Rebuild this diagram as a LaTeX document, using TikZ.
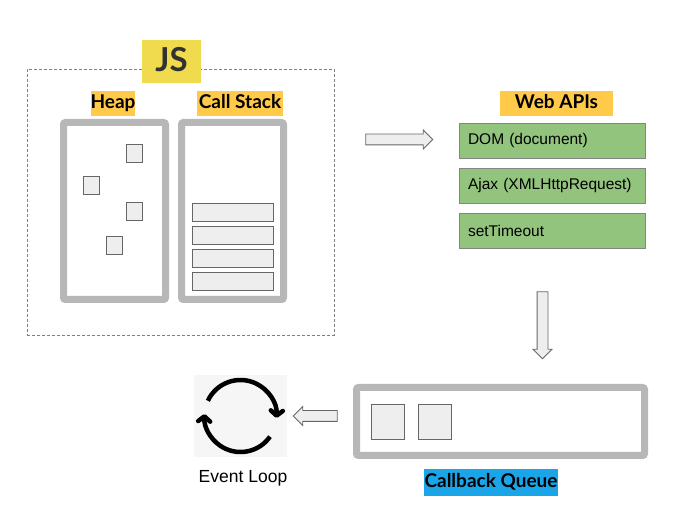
\documentclass[tikz,border=0pt]{standalone}
\usepackage{fontspec}
\setmainfont{Liberation Sans}
\newfontfamily\lblfont{Lato}
\usetikzlibrary{shapes.arrows,arrows.meta}
\definecolor{jsyellow}{HTML}{F0DB4F}
\definecolor{jsdark}{HTML}{323330}
\definecolor{lblorange}{HTML}{FFC94A}
\definecolor{framegray}{HTML}{B7B7B7}
\definecolor{cellgray}{HTML}{EEEEEE}
\definecolor{linegray}{HTML}{666666}
\definecolor{apigreen}{HTML}{93C47D}
\definecolor{queueblue}{HTML}{1BA5E9}
\definecolor{iconbg}{HTML}{F6F6F6}
\begin{document}
\begin{tikzpicture}[x=1pt,y=-1pt]
\tikzset{
  lbl/.style = {fill=lblorange, inner sep=0pt, minimum height=25pt, text height=13.5pt, text depth=4pt, font=\lblfont\bfseries\fontsize{19}{19}\selectfont},
  frame/.style = {draw=framegray, line width=7pt, rounded corners=2pt, fill=white, inner sep=0pt},
  cell/.style = {draw=linegray, line width=0.8pt, fill=cellgray, inner sep=0pt},
  api/.style = {draw=linegray!80, line width=0.9pt, fill=apigreen, minimum height=35pt, text width=168pt, inner xsep=9pt, align=left, font=\fontsize{15.5}{16}\selectfont},
  bigarrow/.style = {single arrow, draw=linegray, line width=0.8pt, fill=cellgray, inner xsep=0pt, inner ysep=5pt, single arrow head extend=4pt},
  loopline/.style = {line width=4.5pt, -{Straight Barb[length=5pt,width=12pt,round]}}
}
\useasboundingbox (0,0) rectangle (675,526);
% JS engine
\node[draw=gray, dash pattern=on 3pt off 2pt, line width=0.8pt, minimum width=307pt, minimum height=266pt, inner sep=0pt] (engine) at (180.5,202) {};
\node[fill=jsyellow, text=jsdark, minimum width=59pt, minimum height=43pt, inner sep=0pt, text height=21pt, text depth=0pt, font=\lblfont\bfseries\fontsize{33}{33}\selectfont] (js) at (171.5,61.5) {JS};
\node[lbl, minimum width=44pt] (heaplbl) at (113,103.5) {Heap};
\node[lbl, minimum width=86pt] (stacklbl) at (240,103.5) {Call Stack};
\node[frame, minimum width=102pt, minimum height=177pt] (heap) at (114.5,211) {};
\node[frame, minimum width=102pt, minimum height=177pt] (stack) at (232.5,211) {};
% heap objects
\foreach \name/\px/\py in {h1/134/153, h2/91/185, h3/134/211.5, h4/114.5/245}
  \node[cell, minimum width=16pt, minimum height=18pt] (\name) at (\px,\py) {};
% stack frames
\foreach \i/\py in {1/212.5, 2/235, 3/258, 4/281}
  \node[cell, minimum width=81pt, minimum height=18pt] (f\i) at (232.5,\py) {};
% Web APIs
\node[bigarrow, minimum height=67pt] (toapi) at (396.5,139.5) {};
\node[lbl, minimum width=113pt] (apilbl) at (556.5,103.5) {Web APIs};
\node[api] (dom) at (552,140.5) {DOM (document)};
\node[api] (ajax) at (552,185.5) {Ajax (XMLHttpRequest)};
\node[api] (timeout) at (552,230.5) {setTimeout};
\node[bigarrow, minimum height=67pt, rotate=-90] (toqueue) at (542.5,322.5) {};
% callback queue
\node[frame, minimum width=288pt, minimum height=68pt] (queue) at (500.5,421.5) {};
\node[cell, minimum width=33pt, minimum height=35pt] (c1) at (387.5,421.5) {};
\node[cell, minimum width=33pt, minimum height=35pt] (c2) at (435,421.5) {};
\node[lbl, fill=queueblue, minimum width=134pt, minimum height=27pt] (queuelbl) at (491,482.5) {Callback Queue};
\node[bigarrow, minimum height=44pt, rotate=180] (toloop) at (318,416) {};
% event loop
\node[fill=iconbg, minimum width=93pt, minimum height=82pt, inner sep=0pt] (loop) at (240.5,416) {};
\draw[loopline] (loop.center) ++(-155:36) arc[start angle=-155, end angle=3, radius=36];
\draw[loopline] (loop.center) ++(35:36) arc[start angle=35, end angle=183, radius=36];
\node[font=\fontsize{17.5}{18}\selectfont] (looplbl) at (243,478) {Event Loop};
\end{tikzpicture}
\end{document}
